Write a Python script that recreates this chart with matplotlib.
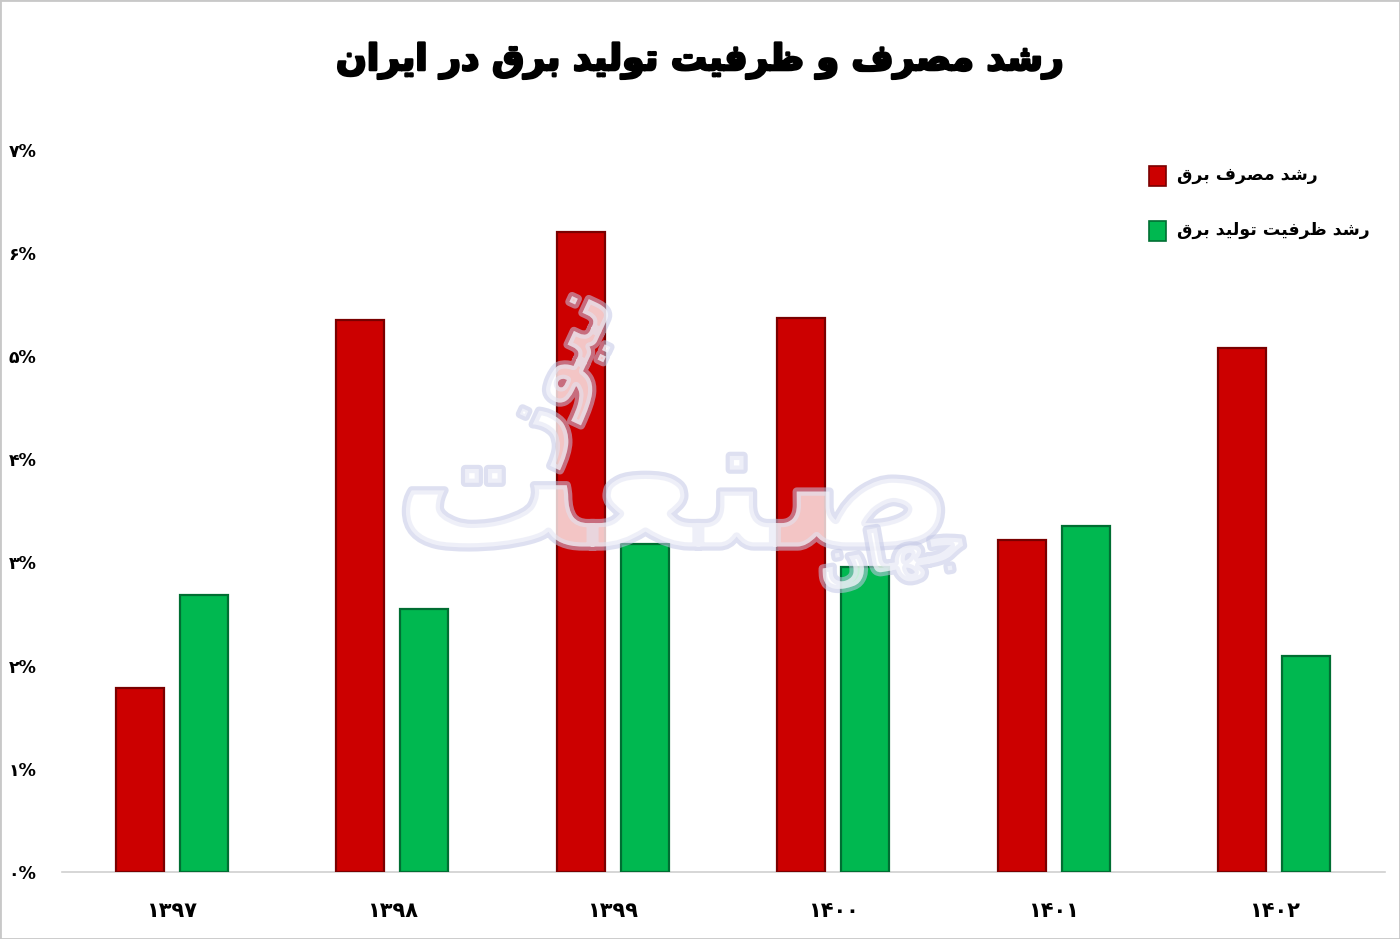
import matplotlib
matplotlib.use("Agg")
import matplotlib.pyplot as plt
import matplotlib.patheffects as pe
import numpy as np
from matplotlib.patches import Rectangle

# data
years = ["۱۳۹۷", "۱۳۹۸", "۱۳۹۹", "۱۴۰۰", "۱۴۰۱", "۱۴۰۲"]
consumption = [1.78, 5.35, 6.20, 5.37, 3.22, 5.08]
capacity = [2.68, 2.55, 3.18, 2.96, 3.35, 2.09]
yticks = [0, 1, 2, 3, 4, 5, 6, 7]
ytick_labels = ["۰%", "۱%", "۲%", "۳%", "۴%", "۵%", "۶%", "۷%"]
title = "رشد مصرف و ظرفیت تولید برق در ایران"
label_cons = "رشد مصرف برق"
label_cap = "رشد ظرفیت تولید برق"

# matplotlib has no arabic shaping, so map letters to presentation forms by hand
FORMS = {
    'ا': ('\uFE8D', '\uFE8E', None, None),
    'ب': ('\uFE8F', '\uFE90', '\uFE91', '\uFE92'),
    'ت': ('\uFE95', '\uFE96', '\uFE97', '\uFE98'),
    'ج': ('\uFE9D', '\uFE9E', '\uFE9F', '\uFEA0'),
    'د': ('\uFEA9', '\uFEAA', None, None),
    'ر': ('\uFEAD', '\uFEAE', None, None),
    'ز': ('\uFEAF', '\uFEB0', None, None),
    'ش': ('\uFEB5', '\uFEB6', '\uFEB7', '\uFEB8'),
    'ص': ('\uFEB9', '\uFEBA', '\uFEBB', '\uFEBC'),
    'ظ': ('\uFEC5', '\uFEC6', '\uFEC7', '\uFEC8'),
    'ع': ('\uFEC9', '\uFECA', '\uFECB', '\uFECC'),
    'ف': ('\uFED1', '\uFED2', '\uFED3', '\uFED4'),
    'ق': ('\uFED5', '\uFED6', '\uFED7', '\uFED8'),
    'ل': ('\uFEDD', '\uFEDE', '\uFEDF', '\uFEE0'),
    'م': ('\uFEE1', '\uFEE2', '\uFEE3', '\uFEE4'),
    'ن': ('\uFEE5', '\uFEE6', '\uFEE7', '\uFEE8'),
    'ه': ('\uFEE9', '\uFEEA', '\uFEEB', '\uFEEC'),
    'و': ('\uFEED', '\uFEEE', None, None),
    'ی': ('\uFBFC', '\uFBFD', '\uFEF3', '\uFEF4'),
}


def shape(text):
    out = []
    n = len(text)
    for i, c in enumerate(text):
        if c not in FORMS:
            out.append(c)
            continue
        iso, fin, ini, med = FORMS[c]
        prev = text[i - 1] if i > 0 else ''
        nxt = text[i + 1] if i < n - 1 else ''
        joins_prev = prev in FORMS and FORMS[prev][2] is not None
        joins_next = nxt in FORMS and ini is not None
        if joins_prev and joins_next:
            out.append(med)
        elif joins_prev:
            out.append(fin)
        elif joins_next:
            out.append(ini)
        else:
            out.append(iso)
    return ''.join(reversed(out))


plt.rcParams['font.family'] = ['DejaVu Sans']

fig = plt.figure(figsize=(14, 9.39), dpi=100)
ax = fig.add_axes([0.044, 0.0714, 0.945, 0.769])

x = np.arange(len(years))
w = 0.218
off = 0.145
red = '#cc0000'
green = '#00b850'
ax.bar(x - off, consumption, w, color=red, edgecolor='#7a0000', linewidth=1.6, zorder=3)
ax.bar(x + off, capacity, w, color=green, edgecolor='#006e32', linewidth=1.6, zorder=3)

ax.set_xlim(-0.5, len(years) - 0.5)
ax.set_ylim(0, 7)
ax.set_yticks(yticks)
ax.set_yticklabels(ytick_labels, fontsize=12.5, fontweight='bold')
ax.set_xticks(x)
ax.set_xticklabels(years, fontsize=15, fontweight='bold')
ax.tick_params(axis='x', length=0, pad=21)
for lab in ax.get_yticklabels():
    lab.set_horizontalalignment('left')
    lab.set_x(-0.04)
ax.tick_params(axis='y', length=0, pad=0)

for s in ['top', 'right', 'left']:
    ax.spines[s].set_visible(False)
ax.spines['bottom'].set_color('#d0d0d0')
ax.spines['bottom'].set_linewidth(1.2)

# watermark, semi transparent over the bars
wm = dict(color='white', alpha=0.5, fontweight='bold', ha='center', va='center', zorder=5,
          path_effects=[pe.withStroke(linewidth=6, foreground='#c3c8e6', alpha=0.55)])
fig.text(675 / 1400, 1 - 495 / 939, shape("صنعت"), fontsize=135, **wm)
fig.text(560 / 1400, 1 - 372 / 939, shape("نیوز"), fontsize=62, rotation=65, **wm)
fig.text(893 / 1400, 1 - 555 / 939, shape("جهان"), fontsize=42, rotation=10, **wm)

fig.text(0.5, 0.935, shape(title), fontsize=26, fontweight='bold',
         ha='center', va='center',
         path_effects=[pe.withStroke(linewidth=1.8, foreground='black')])

# legend
fig.patches.append(Rectangle((1149 / 1400, 1 - 186 / 939), 17 / 1400, 20 / 939,
                             transform=fig.transFigure, facecolor=red,
                             edgecolor='#7a0000', linewidth=1.2))
fig.patches.append(Rectangle((1149 / 1400, 1 - 241 / 939), 17 / 1400, 20 / 939,
                             transform=fig.transFigure, facecolor=green,
                             edgecolor='#006e32', linewidth=1.2))
fig.text(1177 / 1400, 1 - 175 / 939, shape(label_cons), fontsize=12.5,
         fontweight='bold', ha='left', va='center')
fig.text(1177 / 1400, 1 - 230 / 939, shape(label_cap), fontsize=12.5,
         fontweight='bold', ha='left', va='center')

# image border
fig.patches.append(Rectangle((0, 0), 1, 1, transform=fig.transFigure,
                             fill=False, edgecolor='#c8c8c8', linewidth=2))

fig.savefig('out.png', dpi=100)
